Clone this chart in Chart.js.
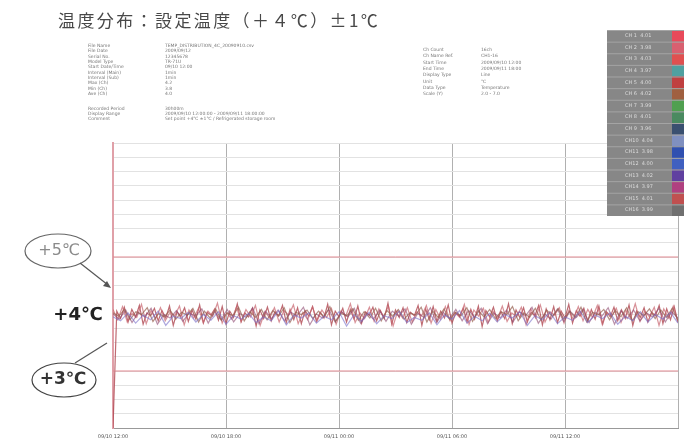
<!DOCTYPE html>
<html>
<head>
<meta charset="utf-8">
<script src="https://cdn.jsdelivr.net/npm/chart.js@4"></script>
<style>
  html, body { margin: 0; padding: 0; background: #fff; }
  canvas { display: block; }
</style>
</head>
<body>
<canvas id="tempChart" width="684" height="441"></canvas>
<script>
// --- data ---
const chartTitle = '温度分布：設定温度（＋４℃）±1℃';
const xTickLabels = ['09/10 12:00', '09/10 18:00', '09/11 00:00', '09/11 06:00', '09/11 12:00', ''];
const limitHigh = 5;
const setPoint = 4;
const limitLow = 3;

// logger channels (noisy band around +4℃)
const seriesRed = [2.0, 4.05,3.92,4.12,3.86,4.08,3.95,4.15,3.82,4.02,3.97,4.10,3.88,4.06,3.93,4.14,3.80,4.04,3.96,4.11,3.87,4.07,3.91,4.16,3.84,4.03,3.98,4.09,3.89,4.13,3.83,4.05,3.94,4.18,3.86,4.02,3.95,4.10,3.79,4.07,3.92,4.12,3.88,4.04,3.97,4.15,3.85,4.08,3.90,4.11,3.83,4.06,3.96,4.13,3.87,4.03,3.93,4.17,3.81,4.05,3.95,4.10,3.86,4.08,3.91,4.14,3.84,4.04,3.98,4.12,3.88,4.06,3.92,4.19,3.82,4.07,3.94,4.11,3.85,4.03,3.97,4.15,3.80,4.09,3.90,4.13,3.87,4.05,3.93,4.16,3.84,4.02,3.96,4.10,3.86,4.08,3.91,4.14,3.78,4.06,3.95,4.12,3.88,4.04,3.92,4.18,3.83,4.07,3.94,4.11,3.86,4.03,3.97,4.15,3.81,4.09,3.90,4.13,3.85,4.05,3.93,4.17,3.84,4.06,3.96,4.10,3.87,4.08,3.91,4.14,3.82,4.04,3.95,4.12,3.88,4.07,3.92,4.16,3.80,4.05,3.94,4.11,3.86,4.03,3.97,4.15,3.83,4.09,3.90,4.13,3.85];
const seriesRose = [4.08,3.90,4.13,3.86,4.01,3.94,4.17,3.83,4.06,3.92,4.11,3.88,4.03,3.97,4.14,3.81,4.07,3.93,4.10,3.85,4.05,3.96,4.19,3.84,4.02,3.91,4.12,3.87,4.08,3.95,4.15,3.80,4.04,3.93,4.11,3.86,4.06,3.98,4.16,3.83,4.03,3.90,4.13,3.88,4.07,3.94,4.10,3.82,4.05,3.96,4.18,3.85,4.02,3.92,4.12,3.87,4.09,3.95,4.14,3.79,4.06,3.93,4.11,3.86,4.04,3.97,4.15,3.84,4.08,3.91,4.13,3.88,4.03,3.94,4.17,3.82,4.07,3.96,4.10,3.85,4.05,3.92,4.14,3.87,4.02,3.95,4.12,3.81,4.09,3.93,4.16,3.86,4.04,3.98,4.11,3.84,4.06,3.90,4.13,3.88,4.08,3.94,4.15,3.83,4.03,3.96,4.10,3.85,4.07,3.92,4.18,3.87,4.05,3.95,4.12,3.80,4.09,3.93,4.14,3.86];
const seriesBrown = [4.02,3.96,4.08,3.90,4.04,3.99,4.11,3.87,4.01,3.95,4.07,3.91,4.03,3.98,4.10,3.86,4.05,3.93,4.09,3.89,4.02,3.97,4.12,3.88,4.04,3.94,4.08,3.90,4.06,3.96,4.11,3.85,4.03,3.99,4.07,3.92,4.05,3.95,4.13,3.87,4.01,3.97,4.09,3.89,4.04,3.93,4.10,3.88,4.06,3.96,4.08,3.91,4.02,3.98,4.12,3.86,4.05,3.94,4.09,3.90,4.03,3.97,4.11,3.87,4.06,3.95,4.08,3.92,4.04,3.99,4.13,3.88,4.02,3.94,4.10,3.89,4.07,3.96,4.09,3.91,4.05,3.93,4.12,3.86,4.03,3.98,4.08,3.90,4.06,3.95,4.11,3.88,4.04,3.97,4.09,3.92,4.07,3.94,4.10,3.89];
const seriesPlum = [4.00,3.91,4.07,3.85,4.03,3.95,4.10,3.82,3.99,3.93,4.06,3.87,4.02,3.96,4.09,3.84,4.04,3.90,4.08,3.86,4.01,3.94,4.11,3.83,4.05,3.92,4.07,3.88,4.03,3.97,4.12,3.81,4.00,3.93,4.08,3.86,4.04,3.95,4.10,3.84,4.02,3.91,4.06,3.87,4.05,3.96,4.09,3.82,4.01,3.94,4.11,3.85,4.03,3.92,4.08,3.88,4.06,3.95,4.10,3.83,4.02,3.93,4.07,3.86,4.04,3.97,4.12,3.84,4.00,3.91,4.09,3.87,4.05,3.94,4.08,3.85,4.03,3.96,4.11,3.82,4.06,3.92,4.07,3.88,4.02,3.95,4.10,3.86,4.04,3.93];
const seriesBlue = [3.95,3.88,4.02,3.84,3.98,3.90,4.05,3.80,3.96,3.92,4.03,3.86,3.99,3.89,4.04,3.82,3.97,3.91,4.01,3.85,3.95,3.88,4.06,3.81,3.98,3.93,4.02,3.84,3.96,3.90,4.04,3.79,3.99,3.87,4.03,3.83,3.97,3.92,4.05,3.85,3.94,3.89,4.02,3.81,3.98,3.91,4.06,3.84,3.96,3.88,4.01,3.86,3.99,3.93,4.04,3.80,3.97,3.90,4.03,3.83,3.95,3.89,4.05,3.85,3.98,3.92,4.02,3.82,3.96,3.88,4.04,3.86,3.99,3.91,4.03,3.84];

// header block (scanned logger report, too small to read exactly)
const infoLeftLabels = ['File Name', 'File Date', 'Serial No.', 'Model Type', 'Start Date/Time', 'Interval (Main)', 'Interval (Sub)', 'Max (Ch)', 'Min (Ch)', 'Ave (Ch)'];
const infoLeftValues = ['TEMP_DISTRIBUTION_4C_20090910.csv', '2009/09/12', '12345678', 'TR-71U', '09/10 12:00', '1min', '1min', '4.2', '3.8', '4.0'];
const infoNoteLabels = ['Recorded Period', 'Display Range', 'Comment'];
const infoNoteValues = ['30h00m', '2009/09/10 12:00:00 - 2009/09/11 18:00:00', 'Set point +4℃ ±1℃ / Refrigerated storage room'];
const infoRightLabels = ['Ch Count', 'Ch Name Ref.', 'Start Time', 'End Time', 'Display Type', 'Unit', 'Data Type', 'Scale (Y)'];
const infoRightValues = ['16ch', 'CH1-16', '2009/09/10 12:00', '2009/09/11 18:00', 'Line', '℃', 'Temperature', '2.0 - 7.0'];
const legendRows = ['CH 1  4.01', 'CH 2  3.98', 'CH 3  4.03', 'CH 4  3.97', 'CH 5  4.00', 'CH 6  4.02', 'CH 7  3.99', 'CH 8  4.01', 'CH 9  3.96', 'CH10  4.04', 'CH11  3.98', 'CH12  4.00', 'CH13  4.02', 'CH14  3.97', 'CH15  4.01', 'CH16  3.99'];
const legendSwatches = ['#e84a5a', '#d86070', '#e05050', '#50a0a0', '#c04040', '#a06040', '#50a050', '#4a8a60', '#3a5070', '#8090c0', '#3050b0', '#4060c0', '#6040a0', '#b04080', '#c05050', '#707070'];

function toPoints(values) {
  const step = 5 / (values.length - 1);
  return values.map((v, i) => ({ x: i * step, y: v }));
}

function channel(label, values, color) {
  return { label, data: toPoints(values), borderColor: color, borderWidth: 1.2, pointRadius: 0, tension: 0 };
}

function limitLine(label, value) {
  return {
    label,
    data: [{ x: 0, y: value }, { x: 5, y: value }],
    borderColor: '#e08890',
    borderWidth: 1,
    pointRadius: 0
  };
}

// --- decoration plugin: title, header text, legend box, ℃ callouts ---
const reportDecor = {
  id: 'reportDecor',
  afterDraw(chart) {
    const ctx = chart.ctx;
    const y = chart.scales.y;
    const area = chart.chartArea;
    ctx.save();

    // title
    ctx.fillStyle = '#484848';
    ctx.font = '17px "Noto Sans CJK JP"';
    ctx.letterSpacing = '2.4px';
    ctx.textBaseline = 'middle';
    ctx.fillText(chartTitle, 58, 21);
    ctx.letterSpacing = '0px';

    // header block
    ctx.fillStyle = '#777';
    ctx.font = '4.5px "DejaVu Sans"';
    infoLeftLabels.forEach((t, i) => ctx.fillText(t, 88, 46 + i * 5.3));
    infoLeftValues.forEach((t, i) => ctx.fillText(t, 165, 46 + i * 5.3));
    infoNoteLabels.forEach((t, i) => ctx.fillText(t, 88, 109 + i * 5));
    infoNoteValues.forEach((t, i) => ctx.fillText(t, 165, 109 + i * 5));
    infoRightLabels.forEach((t, i) => ctx.fillText(t, 423, 50 + i * 6.3));
    infoRightValues.forEach((t, i) => ctx.fillText(t, 481, 50 + i * 6.3));

    // legend box
    ctx.fillStyle = '#878787';
    ctx.fillRect(607, 30, 77, 186);
    ctx.strokeStyle = '#a4a4a4';
    ctx.lineWidth = 1;
    const rowH = 186 / legendRows.length;
    legendRows.forEach((t, i) => {
      const ry = 30 + i * rowH;
      ctx.fillStyle = legendSwatches[i];
      ctx.fillRect(672, ry, 12, rowH);
      ctx.beginPath();
      ctx.moveTo(607, ry + 0.5);
      ctx.lineTo(684, ry + 0.5);
      ctx.stroke();
      ctx.fillStyle = '#dcdcdc';
      ctx.font = '5px "DejaVu Sans"';
      ctx.fillText(t, 625, ry + rowH / 2);
    });

    const y5 = y.getPixelForValue(limitHigh);
    const y4 = y.getPixelForValue(setPoint);
    const y3 = y.getPixelForValue(limitLow);
    ctx.textAlign = 'center';

    // +5℃ callout
    ctx.strokeStyle = '#666';
    ctx.lineWidth = 1.2;
    ctx.beginPath();
    ctx.ellipse(58, y5 - 6, 33, 17, 0, 0, Math.PI * 2);
    ctx.stroke();
    ctx.fillStyle = '#8a8a8a';
    ctx.font = '16px "DejaVu Sans"';
    ctx.fillText('+5℃', 59, y5 - 6);
    ctx.strokeStyle = '#555';
    ctx.beginPath();
    ctx.moveTo(80, y5 + 6);
    ctx.lineTo(area.left - 5, y5 + 28);
    ctx.stroke();
    ctx.fillStyle = '#555';
    ctx.beginPath();
    ctx.moveTo(area.left - 2, y5 + 31);
    ctx.lineTo(area.left - 10, y5 + 29);
    ctx.lineTo(area.left - 6, y5 + 24);
    ctx.fill();

    // +4℃ label
    ctx.fillStyle = '#222';
    ctx.font = 'bold 18px "DejaVu Sans"';
    ctx.fillText('+4℃', 78, y4 + 1);

    // +3℃ callout
    ctx.strokeStyle = '#444';
    ctx.lineWidth = 1.2;
    ctx.beginPath();
    ctx.ellipse(64, y3 + 9, 32, 17, 0, 0, Math.PI * 2);
    ctx.stroke();
    ctx.fillStyle = '#333';
    ctx.font = 'bold 17px "DejaVu Sans"';
    ctx.fillText('+3℃', 63, y3 + 9);
    ctx.strokeStyle = '#555';
    ctx.beginPath();
    ctx.moveTo(75, y3 - 8);
    ctx.lineTo(area.left - 6, y3 - 28);
    ctx.stroke();

    ctx.restore();
  }
};

const ctx = document.getElementById('tempChart').getContext('2d');
new Chart(ctx, {
  type: 'line',
  data: {
    datasets: [
      limitLine('+5℃', limitHigh),
      limitLine('+3℃', limitLow),
      channel('CH2', seriesBlue, 'rgba(120, 110, 200, 0.6)'),
      channel('CH3', seriesBrown, 'rgba(150, 95, 80, 0.7)'),
      channel('CH4', seriesPlum, 'rgba(140, 70, 110, 0.6)'),
      channel('CH5', seriesRose, 'rgba(200, 100, 110, 0.7)'),
      channel('CH1', seriesRed, 'rgba(175, 70, 80, 0.8)')
    ]
  },
  options: {
    responsive: false,
    animation: false,
    layout: { padding: { left: 113, top: 143, right: 0, bottom: -5 } },
    plugins: { legend: { display: false }, tooltip: { enabled: false } },
    scales: {
      x: {
        type: 'linear',
        min: 0,
        max: 5,
        grid: { color: '#b0b0b0', drawTicks: false },
        border: { color: '#999' },
        ticks: {
          stepSize: 1,
          padding: 6,
          maxRotation: 0,
          color: '#555',
          font: { size: 5, family: 'DejaVu Sans' },
          callback: (v) => xTickLabels[v]
        }
      },
      y: {
        min: 2,
        max: 7,
        grid: { drawTicks: false, color: '#e2e2e2' },
        border: { color: '#e0a0a8', width: 2 },
        ticks: { display: false, stepSize: 0.25 }
      }
    }
  },
  plugins: [reportDecor]
});
</script>
</body>
</html>
